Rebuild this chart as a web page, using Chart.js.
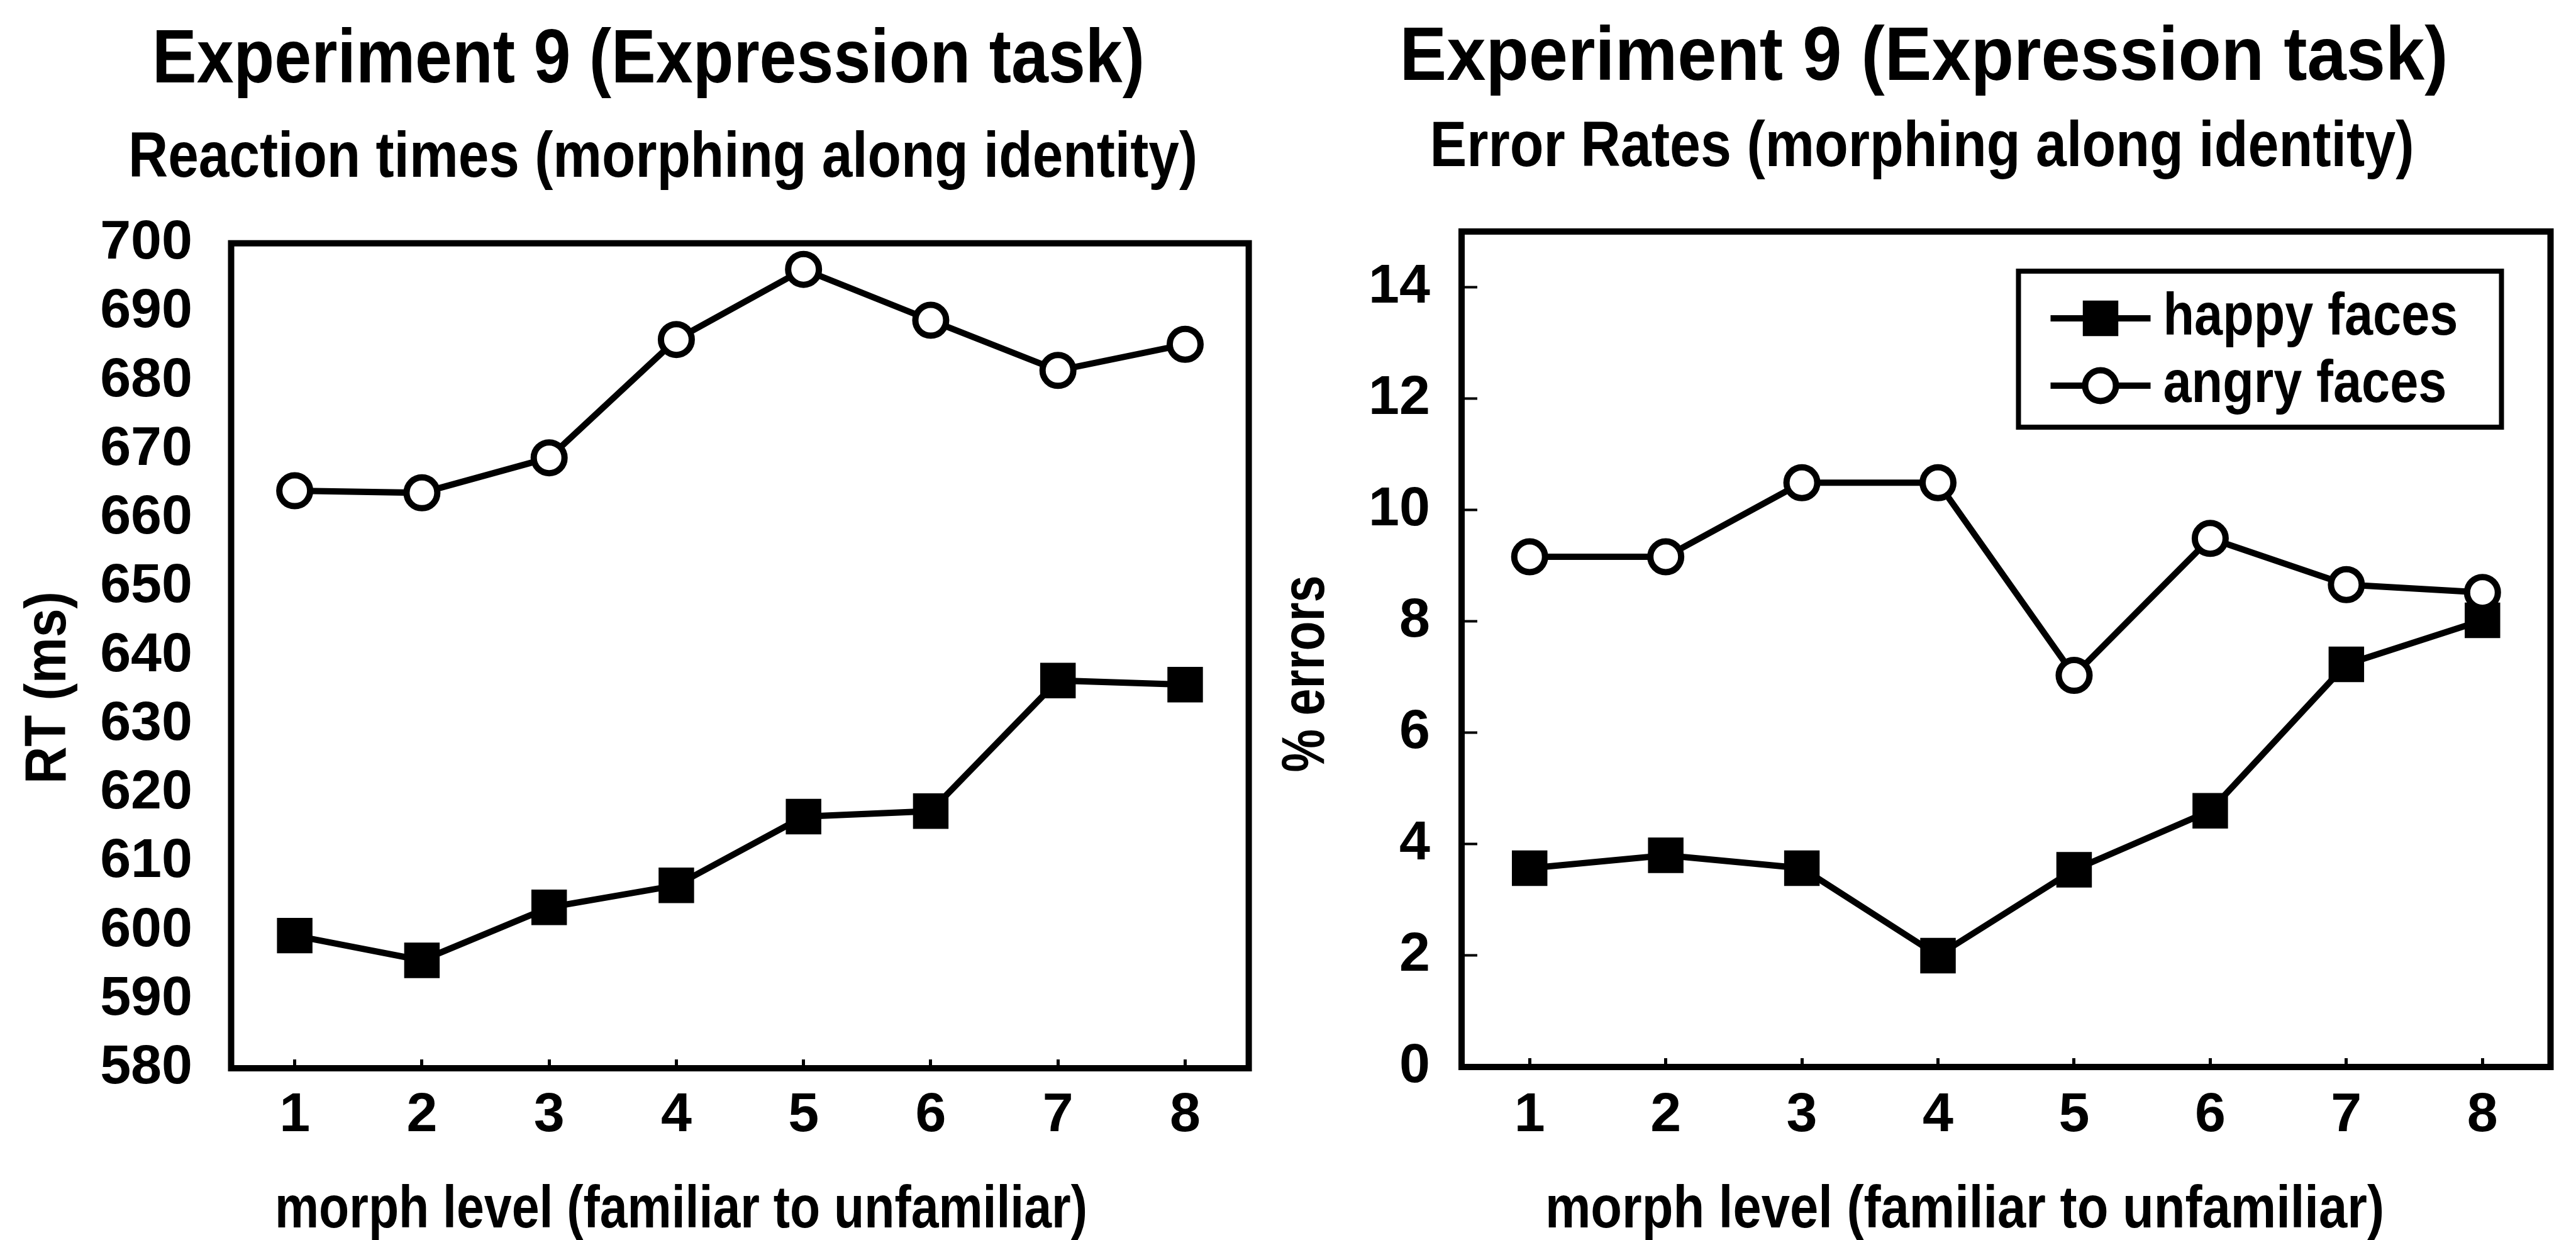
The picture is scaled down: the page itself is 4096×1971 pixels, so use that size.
<!DOCTYPE html>
<html>
<head>
<meta charset="utf-8">
<title>Experiment 9 (Expression task)</title>
<script src="https://cdn.jsdelivr.net/npm/chart.js@4.4.1/dist/chart.umd.min.js"></script>
<style>
  html, body { margin: 0; padding: 0; background: #fff; }
  body { position: relative; width: 4096px; height: 1971px; overflow: hidden; }
  canvas { position: absolute; top: 0; }
  #rtChart { left: 0; }
  #errChart { left: 1944px; }
</style>
</head>
<body>
<canvas id="rtChart" width="2064" height="1971"></canvas>
<canvas id="errChart" width="2152" height="1971"></canvas>
<script>
// data
const morphLevels = ["1", "2", "3", "4", "5", "6", "7", "8"];
const seriesNames = ["happy faces", "angry faces"];

const rtTicks = [580, 590, 600, 610, 620, 630, 640, 650, 660, 670, 680, 690, 700];
const rtHappy = [599.3, 595.7, 603.4, 606.6, 616.6, 617.4, 636.4, 635.8];
const rtAngry = [664.0, 663.7, 668.8, 686.0, 696.2, 688.8, 681.5, 685.3];

const errTicks = [0, 2, 4, 6, 8, 10, 12, 14];
const errHappy = [3.57, 3.80, 3.57, 2.00, 3.54, 4.60, 7.23, 8.02];
const errAngry = [9.16, 9.16, 10.49, 10.49, 7.03, 9.49, 8.66, 8.52];

const FONT = "'Liberation Sans', Arial, Helvetica, sans-serif";
Chart.defaults.font.family = FONT;
Chart.defaults.color = "#000";

function makeSeries(label, values, style, order) {
  const isRect = style === "rect";
  return {
    label: label,
    data: values,
    order: order,
    borderColor: "#000",
    borderWidth: 10,
    pointStyle: style,
    pointRadius: isRect ? 38.5 : 24.5,
    pointBorderWidth: isRect ? 2 : 10,
    pointBackgroundColor: isRect ? "#000" : "#fff",
    pointBorderColor: "#000",
    tension: 0,
    clip: false
  };
}

// box round the plot area
const framePlugin = {
  id: "frame",
  beforeDatasetsDraw(chart, args, opts) {
    const { ctx, chartArea: a } = chart;
    ctx.save();
    ctx.lineWidth = opts.width;
    ctx.strokeStyle = opts.color;
    ctx.strokeRect(a.left, a.top, a.right - a.left, a.bottom - a.top);
    ctx.restore();
  }
};

// titles and axis captions; the original face is a condensed Helvetica,
// so each line is squeezed to the width it has in the figure
const textPlugin = {
  id: "textBlocks",
  afterDraw(chart, args, opts) {
    const { ctx } = chart;
    ctx.save();
    ctx.fillStyle = "#000";
    ctx.textAlign = "center";
    ctx.textBaseline = "alphabetic";
    opts.items.forEach((item) => {
      ctx.font = "bold " + item.size + "px " + FONT;
      const natural = ctx.measureText(item.text).width;
      const sx = item.width ? item.width / natural : 1;
      ctx.save();
      ctx.translate(item.x, item.y);
      ctx.rotate(item.rotation || 0);
      ctx.scale(sx, 1);
      ctx.fillText(item.text, 0, 0);
      ctx.restore();
    });
    ctx.restore();
  }
};

// boxed legend inside the plot, line sample with the marker in the middle
const insetLegendPlugin = {
  id: "insetLegend",
  afterDatasetsDraw(chart, args, opts) {
    if (!opts.display) return;
    const { ctx, chartArea } = chart;
    const x0 = chartArea.right - opts.right - opts.width;
    const y0 = chartArea.top + opts.top;
    ctx.save();
    ctx.fillStyle = "#fff";
    ctx.fillRect(x0, y0, opts.width, opts.height);
    ctx.lineWidth = opts.borderWidth;
    ctx.strokeStyle = "#000";
    ctx.strokeRect(x0, y0, opts.width, opts.height);
    ctx.font = "bold " + opts.fontSize + "px " + FONT;
    ctx.textBaseline = "middle";
    ctx.textAlign = "left";
    chart.data.datasets.forEach((ds, i) => {
      const cy = y0 + opts.firstRow + i * opts.rowGap;
      ctx.strokeStyle = ds.borderColor;
      ctx.lineWidth = ds.borderWidth;
      ctx.beginPath();
      ctx.moveTo(x0 + opts.lineStart, cy);
      ctx.lineTo(x0 + opts.lineStart + opts.lineLen, cy);
      ctx.stroke();
      ctx.fillStyle = ds.pointBackgroundColor;
      ctx.strokeStyle = ds.pointBorderColor;
      ctx.lineWidth = ds.pointBorderWidth;
      Chart.helpers.drawPoint(ctx, {
        pointStyle: ds.pointStyle,
        radius: ds.pointRadius,
        borderWidth: ds.pointBorderWidth,
        rotation: 0
      }, x0 + opts.lineStart + opts.lineLen / 2, cy);
      ctx.fillStyle = "#000";
      ctx.save();
      ctx.translate(x0 + opts.textStart, cy);
      ctx.scale(opts.textScale, 1);
      ctx.fillText(ds.label, 0, 0);
      ctx.restore();
    });
    ctx.restore();
  }
};

const tickFont = { size: 88, weight: "bold", lineHeight: 1 };

// left panel: reaction times
new Chart(document.getElementById("rtChart"), {
  type: "line",
  data: {
    labels: morphLevels,
    datasets: [
      makeSeries(seriesNames[0], rtHappy, "rect", 1),
      makeSeries(seriesNames[1], rtAngry, "circle", 0)
    ]
  },
  options: {
    responsive: false,
    animation: false,
    devicePixelRatio: 1,
    events: [],
    layout: { padding: { left: 0, right: 78.4, top: 386.7, bottom: 0 } },
    plugins: {
      legend: { display: false },
      tooltip: { enabled: false },
      frame: { width: 10, color: "#000" },
      insetLegend: { display: false },
      textBlocks: {
        items: [
          { text: "Experiment 9 (Expression task)", x: 1031, y: 131, size: 120, width: 1578 },
          { text: "Reaction times (morphing along identity)", x: 1054, y: 281, size: 102, width: 1700 },
          { text: "morph level (familiar to unfamiliar)", x: 1083, y: 1951, size: 94, width: 1292 },
          { text: "RT (ms)", x: 104, y: 1093, size: 93, width: 306, rotation: -Math.PI / 2 }
        ]
      }
    },
    scales: {
      x: {
        offset: true,
        grid: { offset: false, drawOnChartArea: false, drawTicks: true, tickLength: -14, tickWidth: 5, color: "#000" },
        border: { display: false },
        ticks: { font: tickFont, padding: 46, maxRotation: 0, autoSkip: false, color: "#000" },
        afterFit: (s) => { s.height = 273; }
      },
      y: {
        min: rtTicks[0],
        max: rtTicks[rtTicks.length - 1],
        grid: { drawOnChartArea: false, drawTicks: false },
        border: { display: false },
        ticks: { font: tickFont, padding: 61.5, color: "#000" },
        afterBuildTicks: (s) => { s.ticks = rtTicks.map((v) => ({ value: v })); },
        afterFit: (s) => { s.width = 367.5; }
      }
    }
  },
  plugins: [framePlugin, textPlugin, insetLegendPlugin]
});

// right panel: error rates
new Chart(document.getElementById("errChart"), {
  type: "line",
  data: {
    labels: morphLevels,
    datasets: [
      makeSeries(seriesNames[0], errHappy, "rect", 1),
      makeSeries(seriesNames[1], errAngry, "circle", 0)
    ]
  },
  options: {
    responsive: false,
    animation: false,
    devicePixelRatio: 1,
    events: [],
    layout: { padding: { left: 0, right: 28.2, top: 368, bottom: 0 } },
    plugins: {
      legend: { display: false },
      tooltip: { enabled: false },
      frame: { width: 10, color: "#000" },
      insetLegend: {
        display: true,
        width: 768, height: 248, right: 78, top: 63,
        borderWidth: 8,
        lineStart: 51, lineLen: 159, textStart: 230,
        firstRow: 75, rowGap: 107,
        fontSize: 95, textScale: 0.854
      },
      textBlocks: {
        items: [
          { text: "Experiment 9 (Expression task)", x: 1115, y: 127, size: 120, width: 1667 },
          { text: "Error Rates (morphing along identity)", x: 1112, y: 264, size: 102, width: 1565 },
          { text: "morph level (familiar to unfamiliar)", x: 1180, y: 1951, size: 94, width: 1334 },
          { text: "% errors", x: 161, y: 1071, size: 97, width: 313, rotation: -Math.PI / 2 }
        ]
      }
    },
    scales: {
      x: {
        offset: true,
        grid: { offset: false, drawOnChartArea: false, drawTicks: true, tickLength: -14, tickWidth: 5, color: "#000" },
        border: { display: false },
        ticks: { font: tickFont, padding: 48, maxRotation: 0, autoSkip: false, color: "#000" },
        afterFit: (s) => { s.height = 275; }
      },
      y: {
        min: 0,
        max: 15,
        grid: { drawOnChartArea: false, drawTicks: true, tickLength: -25, tickWidth: 4, color: "#000" },
        border: { display: false },
        ticks: { font: tickFont, padding: 75, color: "#000" },
        afterBuildTicks: (s) => { s.ticks = errTicks.map((v) => ({ value: v })); },
        afterFit: (s) => { s.width = 380; }
      }
    }
  },
  plugins: [framePlugin, textPlugin, insetLegendPlugin]
});
</script>
</body>
</html>
